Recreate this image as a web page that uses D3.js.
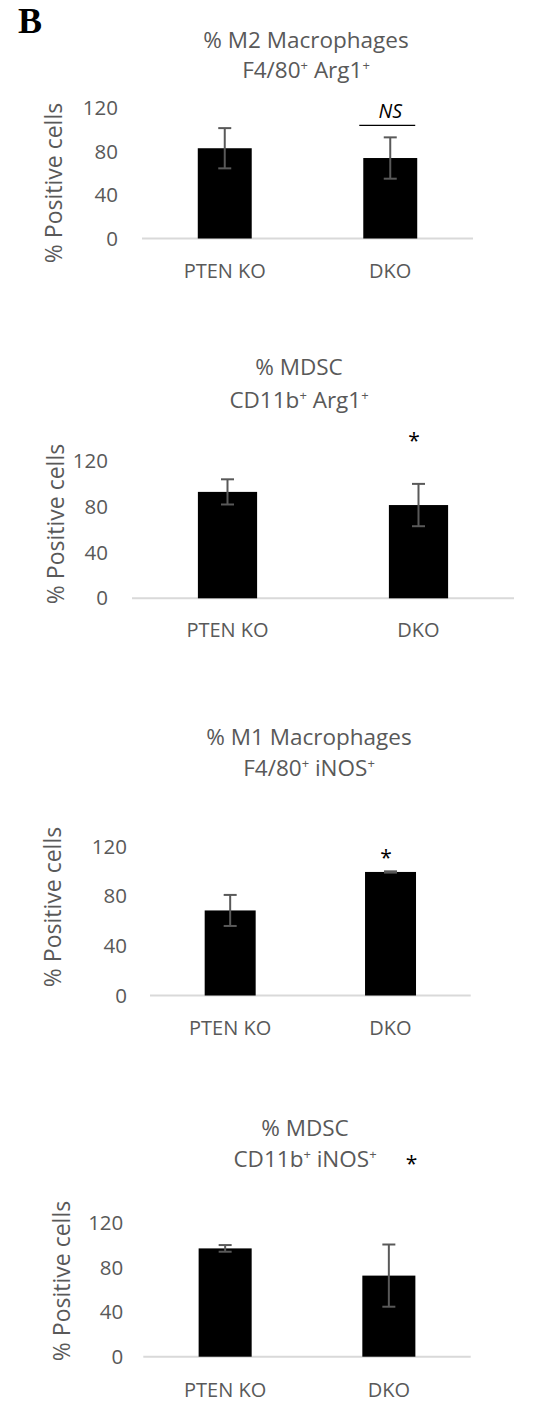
<!DOCTYPE html>
<html>
<head>
<meta charset="utf-8">
<script src="https://cdn.jsdelivr.net/npm/d3@7"></script>
<style>
  body { margin: 0; background: #fff; }
  svg { display: block; }
  text { font-family: "Open Sans", sans-serif; }
</style>
</head>
<body>
<svg width="543" height="1403"></svg>
<script>
// values
let groups = ["PTEN KO", "DKO"];
let titles1 = ["% M2 Macrophages", "% MDSC", "% M1 Macrophages", "% MDSC"];
let titles2 = ["F4/80^+ Arg1^+", "CD11b^+ Arg1^+", "F4/80^+ iNOS^+", "CD11b^+ iNOS^+"];
let means = [[83, 74], [93, 81.5], [68.5, 99.5], [97.5, 73]];
let errs = [[18.5, 19], [11, 18.5], [12.5, 0.5], [3, 28]];
let yTicks = [0, 40, 80, 120];
let yLabel = "% Positive cells";
let marks = [
  {panel: 0, group: "DKO", text: "NS", value: 111, line: 104},
  {panel: 1, group: "DKO", text: "*", value: 131},
  {panel: 2, group: "DKO", text: "*", value: 105.5}
];

// where each panel sits on the page
let layout = [
  {x0: 142, x1: 473, zero: 238.5, top: 108, pad: 0.674, tx: 306, t1: 48, t2: 78, lx: 54, ly: 183, xl: 278, gap: 24},
  {x0: 132, x1: 514, zero: 598.3, top: 461, pad: 0.69, tx: 299, t1: 375, t2: 408, lx: 56, ly: 524, xl: 636.5, gap: 24},
  {x0: 150, x1: 470.7, zero: 995.5, top: 846.5, pad: 0.682, tx: 309, t1: 745, t2: 775.5, lx: 53, ly: 907, xl: 1035, gap: 23},
  {x0: 143.3, x1: 470.7, zero: 1356.7, top: 1223.4, pad: 0.676, tx: 305, t1: 1135.5, t2: 1167, lx: 62, ly: 1281, xl: 1397, gap: 20}
];

let svg = d3.select("svg");
let grey = "#595959";

svg.append("text")
  .attr("x", 18).attr("y", 32.7)
  .style("font-family", "'Liberation Serif', serif")
  .style("font-weight", "bold")
  .style("font-size", "36px")
  .text("B");

function superText(sel, str) {
  let lift = 0;
  str.split("^+").forEach((part, i, arr) => {
    sel.append("tspan").attr("dy", lift).text(part);
    lift = 0;
    if (i < arr.length - 1) {
      sel.append("tspan").attr("dy", -8).style("font-size", "13px").text("+");
      lift = 8;
    }
  });
}

layout.forEach((L, p) => {
  let g = svg.append("g");

  let x = d3.scaleBand()
    .domain(groups)
    .range([L.x0, L.x1])
    .paddingInner(L.pad)
    .paddingOuter(L.pad / 2);

  let y = d3.scaleLinear()
    .domain([0, 120])
    .range([L.zero, L.top]);

  // titles
  g.append("text")
    .attr("x", L.tx).attr("y", L.t1)
    .attr("text-anchor", "middle")
    .attr("fill", grey)
    .style("font-size", "22.5px")
    .text(titles1[p]);

  g.append("text")
    .attr("x", L.tx).attr("y", L.t2)
    .attr("text-anchor", "middle")
    .attr("fill", grey)
    .style("font-size", "22.5px")
    .call(superText, titles2[p]);

  // y axis
  let ya = g.append("g")
    .attr("transform", `translate(${L.x0},0)`)
    .call(d3.axisLeft(y).tickValues(yTicks).tickSize(0).tickPadding(L.gap));
  ya.select(".domain").remove();
  ya.selectAll("text")
    .attr("fill", grey)
    .style("font-family", "'Open Sans', sans-serif")
    .style("font-size", "20.5px");

  g.append("text")
    .attr("transform", `translate(${L.lx},${L.ly}) rotate(-90)`)
    .attr("text-anchor", "middle")
    .attr("dy", "0.35em")
    .attr("fill", grey)
    .style("font-size", "23px")
    .text(yLabel);

  // baseline
  g.append("line")
    .attr("x1", L.x0).attr("x2", L.x1)
    .attr("y1", L.zero).attr("y2", L.zero)
    .attr("stroke", "#d9d9d9")
    .attr("stroke-width", 2);

  // bars
  g.selectAll("rect.bar")
    .data(groups)
    .join("rect")
      .attr("class", "bar")
      .attr("x", d => x(d))
      .attr("width", x.bandwidth())
      .attr("y", (d, i) => y(means[p][i]))
      .attr("height", (d, i) => L.zero - y(means[p][i]))
      .attr("fill", "#000");

  // error bars
  let eb = g.selectAll("g.err")
    .data(groups)
    .join("g")
      .attr("class", "err")
      .attr("stroke", grey)
      .attr("stroke-width", 2);
  eb.append("line")
    .attr("x1", d => x(d) + x.bandwidth() / 2)
    .attr("x2", d => x(d) + x.bandwidth() / 2)
    .attr("y1", (d, i) => y(means[p][i] - errs[p][i]))
    .attr("y2", (d, i) => y(means[p][i] + errs[p][i]));
  [-1, 1].forEach(s => {
    eb.append("line")
      .attr("x1", d => x(d) + x.bandwidth() / 2 - 6.5)
      .attr("x2", d => x(d) + x.bandwidth() / 2 + 6.5)
      .attr("y1", (d, i) => y(means[p][i] + s * errs[p][i]))
      .attr("y2", (d, i) => y(means[p][i] + s * errs[p][i]));
  });

  // x labels
  g.selectAll("text.xl")
    .data(groups)
    .join("text")
      .attr("class", "xl")
      .attr("x", d => x(d) + x.bandwidth() / 2)
      .attr("y", L.xl)
      .attr("text-anchor", "middle")
      .attr("fill", grey)
      .style("font-size", "20px")
      .text(d => d);

  // significance marks
  marks.filter(m => m.panel === p).forEach(m => {
    let cx = x(m.group) + x.bandwidth() / 2;
    if (m.text === "NS") {
      g.append("text")
        .attr("x", cx).attr("y", y(m.value))
        .attr("text-anchor", "middle")
        .style("font-style", "italic")
        .style("font-size", "19.5px")
        .text(m.text);
      g.append("line")
        .attr("x1", x(m.group) - 4).attr("x2", x(m.group) + x.bandwidth() - 2)
        .attr("y1", y(m.line)).attr("y2", y(m.line))
        .attr("stroke", "#000").attr("stroke-width", 1.2);
    } else {
      g.append("text")
        .attr("x", cx - 4.5).attr("y", y(m.value))
        .attr("text-anchor", "middle")
        .style("font-size", "21px")
        .text(m.text);
    }
  });

  if (p === 3) {
    g.append("text")
      .attr("x", L.tx + 106.5).attr("y", L.t2 + 3.5)
      .attr("text-anchor", "middle")
      .style("font-size", "21px")
      .text("*");
  }
});
</script>
</body>
</html>
